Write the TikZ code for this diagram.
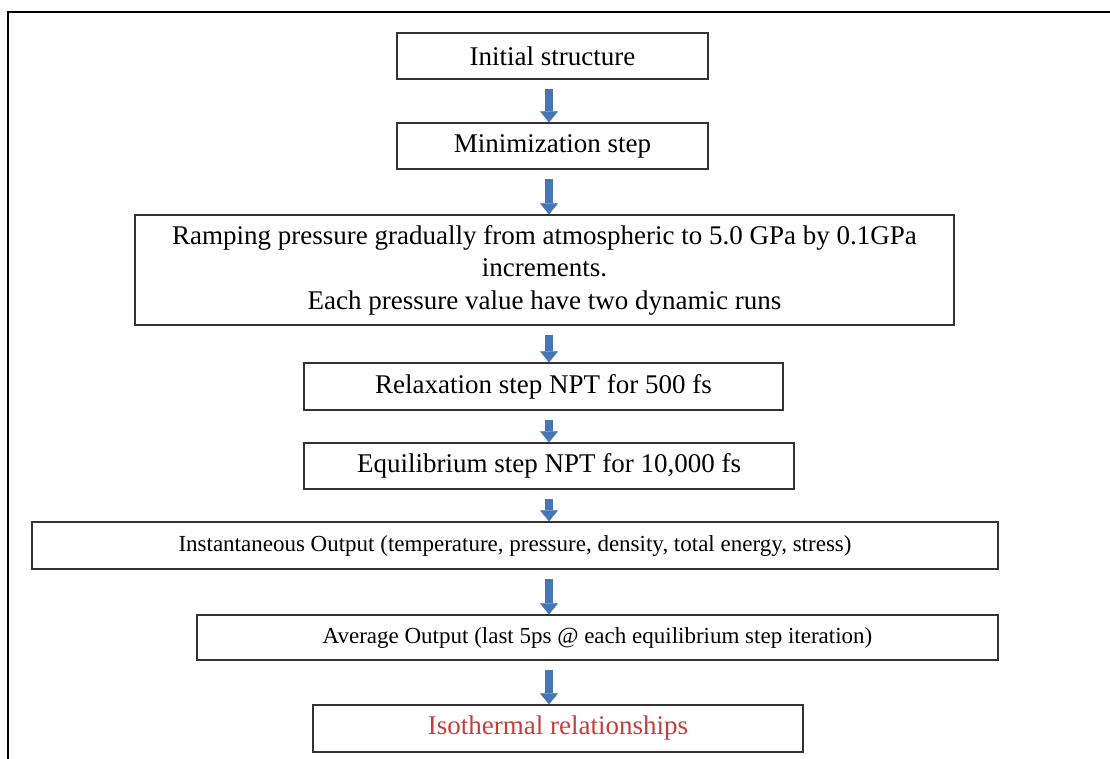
\documentclass[tikz,border=0pt]{standalone}
\usepackage{fontspec}
\setmainfont{Liberation Serif}
\usetikzlibrary{arrows.meta,calc}
\definecolor{flowblue}{RGB}{70,118,180}
\definecolor{resultred}{RGB}{196,62,58}
\begin{document}
\begin{tikzpicture}[x=1pt,y=-1pt,
  stepbox/.style={draw=black!80,line width=1.3pt,inner sep=0pt,align=center,
    font=\fontsize{27}{32.5}\selectfont},
  smalltext/.style={font=\fontsize{23}{28}\selectfont},
  flow/.style={draw=flowblue,line width=8pt,
    -{Triangle[width=18pt,length=11pt,line width=0.5pt]},shorten <=9pt}]
\useasboundingbox (0,0) rectangle (1110,759);
% open frame around the chart
\draw[line width=2pt] (8,759) -- (8,12) -- (1110,12);
% process steps
\node[stepbox,minimum width=311pt,minimum height=46pt] (init) at (552.5,56) {Initial structure};
\node[stepbox,minimum width=311pt,minimum height=46pt] (mini) at (552.5,146) {Minimization step};
\node[stepbox,minimum width=819pt,minimum height=110pt] (ramp) at (544.5,270)
  {Ramping pressure gradually from atmospheric to 5.0 GPa by 0.1GPa\\increments.\\Each pressure value have two dynamic runs};
\node[stepbox,minimum width=479pt,minimum height=47pt] (relax) at (543.5,386.5) {Relaxation step NPT for 500 fs};
\node[stepbox,minimum width=490pt,minimum height=46pt] (equil) at (549,466) {Equilibrium step NPT for 10,000 fs};
\node[stepbox,smalltext,minimum width=966pt,minimum height=47pt] (inst) at (515,545.5)
  {Instantaneous Output (temperature, pressure, density, total energy, stress)};
\node[stepbox,smalltext,minimum width=801pt,minimum height=45pt] (avg) at (597.5,637.5)
  {Average Output (last 5ps @ each equilibrium step iteration)};
\node[stepbox,minimum width=490pt,minimum height=47pt,text=resultred] (iso) at (558,728.5) {Isothermal relationships};
% arrows down the centre line
\coordinate (ax) at (549,0);
\foreach \a/\b in {init/mini,mini/ramp,ramp/relax,relax/equil,equil/inst,inst/avg,avg/iso}
  \draw[flow] (\a.south -| ax) -- (\b.north -| ax);
\end{tikzpicture}
\end{document}
